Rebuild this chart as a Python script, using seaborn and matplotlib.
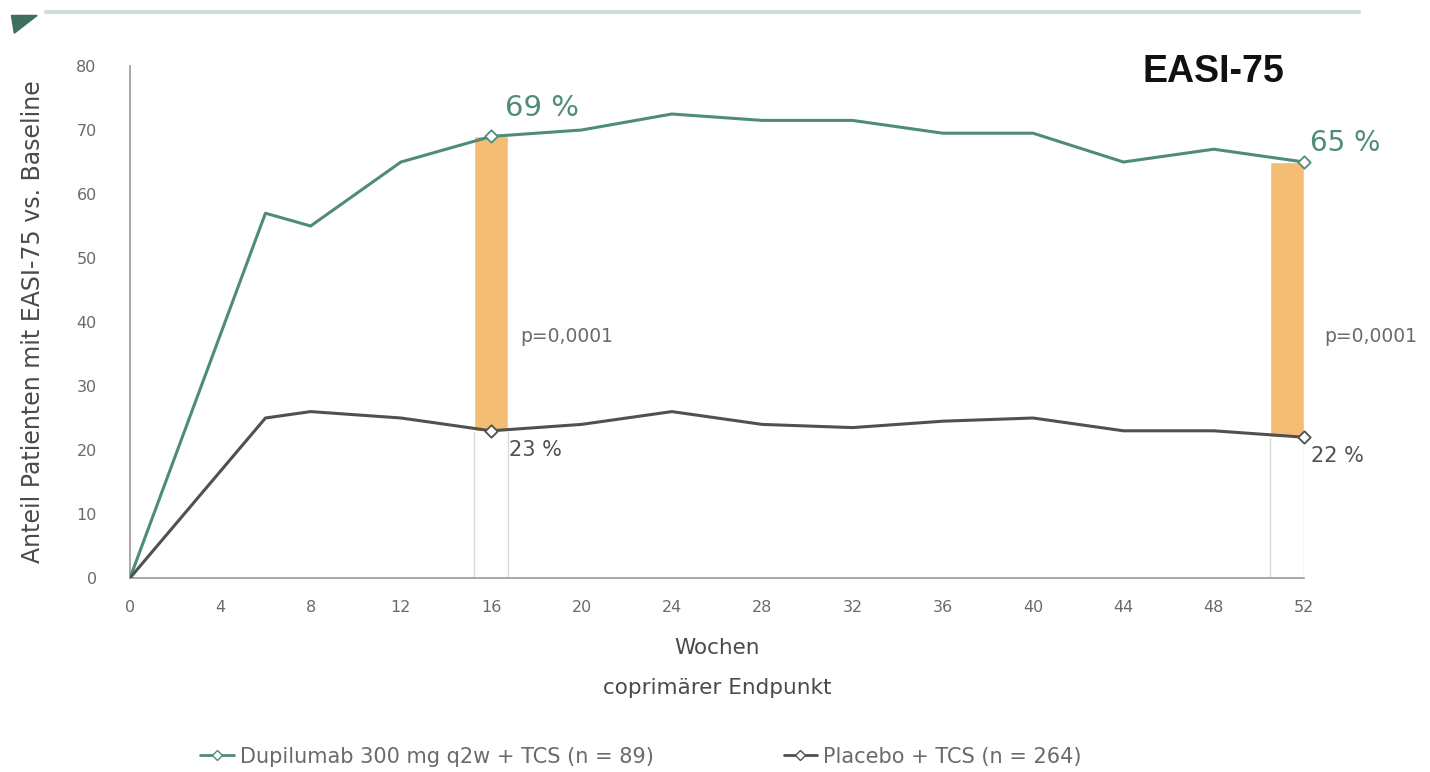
import matplotlib
matplotlib.use("Agg")
import matplotlib.pyplot as plt
from matplotlib.lines import Line2D
from matplotlib.patches import Polygon
import seaborn as sns
import pandas as pd

# Study visits (weeks) and response rates (%)
weeks = [0, 6, 8, 12, 16, 20, 24, 28, 32, 36, 40, 44, 48, 52]
dupilumab = [0, 57, 55, 65, 69, 70, 72.5, 71.5, 71.5, 69.5, 69.5, 65, 67, 65]
placebo = [0, 25, 26, 25, 23, 24, 26, 24, 23.5, 24.5, 25, 23, 23, 22]

series_names = ["Dupilumab 300 mg q2w + TCS (n = 89)", "Placebo + TCS (n = 264)"]
endpoint_weeks = [16, 52]
endpoint_dupi = [69, 65]
endpoint_plac = [23, 22]
p_values = ["p=0,0001", "p=0,0001"]
x_ticks = list(range(0, 53, 4))
y_ticks = list(range(0, 81, 10))

GREEN = "#4f8c78"
GREY = "#505050"
ORANGE = "#f5bd74"
TEXT = "#6a6a6a"

sns.set_theme(style="white")
plt.rcParams["font.family"] = ["DejaVu Sans"]

fig = plt.figure(figsize=(14.3, 7.72), dpi=100)
ax = fig.add_axes([0.0909, 0.2513, 0.8210, 0.6632])

df = pd.DataFrame({
    "Woche": weeks * 2,
    "Wert": dupilumab + placebo,
    "Gruppe": [series_names[0]] * len(weeks) + [series_names[1]] * len(weeks),
})

# Difference bars at the endpoints, with thin guides down to the axis
bar_w = 1.5
bar_x = [endpoint_weeks[0], endpoint_weeks[1] - bar_w / 2]
for bx, top, bot in zip(bar_x, endpoint_dupi, endpoint_plac):
    ax.bar(bx, top - bot, bottom=bot, width=bar_w, color=ORANGE, zorder=1)
    for edge in (bx - bar_w / 2, bx + bar_w / 2):
        ax.plot([edge, edge], [0, bot], color="#d9d9d9", lw=1, zorder=0)

sns.lineplot(data=df, x="Woche", y="Wert", hue="Gruppe",
             palette=[GREEN, GREY], linewidth=2.2, legend=False, ax=ax,
             zorder=3)

# Endpoint markers
ax.scatter(endpoint_weeks, endpoint_dupi, marker="D", s=40, facecolor="white",
           edgecolor=GREEN, linewidth=1.3, zorder=4, clip_on=False)
ax.scatter(endpoint_weeks, endpoint_plac, marker="D", s=40, facecolor="white",
           edgecolor=GREY, linewidth=1.3, zorder=4, clip_on=False)

ax.set_xlim(0, 52)
ax.set_ylim(0, 80)
ax.set_xticks(x_ticks)
ax.set_yticks(y_ticks)
ax.tick_params(axis="both", direction="out", length=4, width=1,
               color="#9a9a9a", labelsize=11.5, labelcolor=TEXT)
ax.tick_params(axis="y", pad=20)
ax.tick_params(axis="x", pad=12)
for side in ("top", "right"):
    ax.spines[side].set_visible(False)
for side in ("left", "bottom"):
    ax.spines[side].set_color("#9a9a9a")
    ax.spines[side].set_linewidth(1.2)

ax.set_ylabel("Anteil Patienten mit EASI-75 vs. Baseline", fontsize=17,
              color="#4a4a4a")
ax.yaxis.set_label_coords(-0.083, 0.5)
ax.yaxis.label.set_va("center")
ax.set_xlabel("Wochen", fontsize=15.5, color="#4a4a4a")
ax.xaxis.set_label_coords(0.5, -0.137)
ax.xaxis.label.set_va("center")
ax.text(0.5, -0.215, "coprimärer Endpunkt", transform=ax.transAxes,
        fontsize=15.5, color="#4a4a4a", ha="center", va="center")

# Value labels
ax.text(endpoint_weeks[0] + 0.6, endpoint_dupi[0] + 4.5, f"{endpoint_dupi[0]} %",
        color=GREEN, fontsize=21, ha="left", va="center")
ax.text(endpoint_weeks[1] + 0.25, endpoint_dupi[1] + 3, f"{endpoint_dupi[1]} %",
        color=GREEN, fontsize=20, ha="left", va="center", clip_on=False)
ax.text(endpoint_weeks[0] + 0.8, endpoint_plac[0] - 3, f"{endpoint_plac[0]} %",
        color=GREY, fontsize=15, ha="left", va="center")
ax.text(endpoint_weeks[1] + 0.3, endpoint_plac[1] - 3, f"{endpoint_plac[1]} %",
        color=GREY, fontsize=15, ha="left", va="center", clip_on=False)
ax.text(endpoint_weeks[0] + 1.3, 37.7, p_values[0], color=TEXT, fontsize=13.5,
        ha="left", va="center")
ax.text(endpoint_weeks[1] + 0.9, 37.7, p_values[1], color=TEXT, fontsize=13.5,
        ha="left", va="center", clip_on=False)

ax.text(48, 79, "EASI-75", fontsize=27, fontweight="bold", color="#111111",
        family=["Liberation Sans", "DejaVu Sans"], ha="center", va="center")

# Legend, one entry per group
for name, color, x0 in zip(series_names, [GREEN, GREY], [0.140, 0.548]):
    handle = Line2D([0], [0], color=color, lw=2, marker="D", markersize=5,
                    markerfacecolor="white", markeredgecolor=color)
    fig.legend([handle], [name], loc="center left",
               bbox_to_anchor=(x0, 0.02), frameon=False, fontsize=15,
               labelcolor=TEXT, handlelength=1.6, handletextpad=0.3,
               borderpad=0, borderaxespad=0)

# Header rule and corner mark
fig.add_artist(Line2D([0.032, 0.95], [0.985, 0.985], color="#cfdcd6", lw=3))
fig.add_artist(Polygon([[0.008, 0.98], [0.026, 0.98], [0.010, 0.957]],
                       closed=True, color="#3f6f5f", transform=fig.transFigure))

fig.savefig("out.png", dpi=100, facecolor="white")
